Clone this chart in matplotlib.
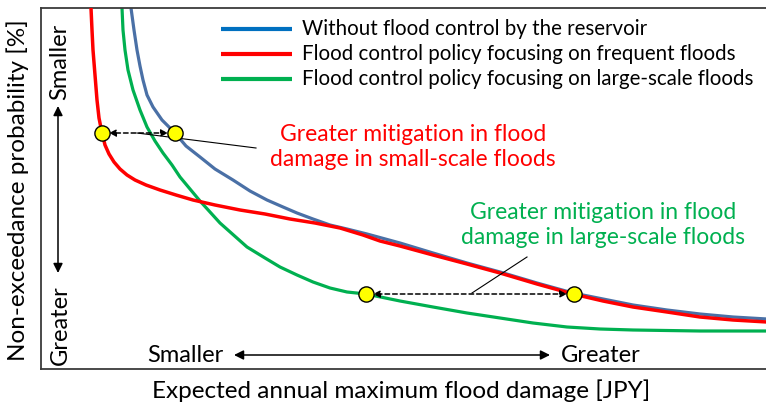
import matplotlib
matplotlib.use("Agg")
import matplotlib.pyplot as plt

plt.rcParams['font.family'] = ['Lato', 'DejaVu Sans']

# curve points (x: damage, y: non-exceedance, screen units)
blue_x = [131, 134, 137, 140, 143, 147, 153, 162, 175, 186, 200, 215, 233, 250, 267, 283, 297, 313, 330, 347, 367, 400, 433, 467, 500, 537, 573, 603, 633, 667, 700, 733, 767]
blue_y = [8, 30, 50, 66, 80, 95, 107, 120, 133, 146, 157, 169, 180, 191, 200, 207, 213, 219, 225, 229, 234, 243, 253, 263, 272, 283, 293, 299, 305, 310, 314, 317, 319]

red_x = [91, 92, 93, 95, 97, 99, 102, 105, 109, 114, 120, 127, 135, 146, 160, 176, 193, 215, 240, 265, 290, 315, 340, 363, 380, 400, 433, 467, 500, 537, 573, 603, 633, 667, 700, 733, 767]
red_y = [8, 30, 50, 75, 100, 118, 133, 145, 154, 162, 169, 175, 180, 185, 190, 195, 200, 205, 210, 214, 219, 223, 228, 235, 241, 246, 255, 264, 273, 284, 294, 301, 307, 312, 317, 320, 322]

green_x = [122, 123, 125, 128, 133, 140, 147, 155, 163, 172, 180, 190, 200, 220, 247, 265, 280, 297, 313, 330, 347, 366, 400, 433, 467, 500, 533, 567, 600, 633, 700, 767]
green_y = [8, 30, 50, 70, 90, 110, 127, 141, 153, 165, 177, 189, 201, 223, 247, 258, 267, 275, 282, 288, 292, 294, 301, 307, 313, 318, 323, 327, 329, 330, 331, 331]

series_labels = ["Without flood control by the reservoir",
                 "Flood control policy focusing on frequent floods",
                 "Flood control policy focusing on large-scale floods"]
series_colors = ["#4a70a6", "#ff0000", "#00b050"]
legend_colors = ["#0070c0", "#ff0000", "#00b050"]

# compared points (dots)
small_pts_x = [102, 175]
small_pts_y = [133, 133]
large_pts_x = [366, 574]
large_pts_y = [294, 294]

W, H = 766, 405
fig = plt.figure(figsize=(W / 100, H / 100), dpi=100)
ax = fig.add_axes([41 / W, (H - 369) / H, (W - 41) / W, 361 / H])
ax.set_xlim(41, 766)
ax.set_ylim(369, 8)
ax.set_xticks([])
ax.set_yticks([])
ax.spines['right'].set_visible(False)
for s in ['left', 'top', 'bottom']:
    ax.spines[s].set_color('#3a3a3a')
    ax.spines[s].set_linewidth(1.3)

ax.plot(blue_x, blue_y, color=series_colors[0], lw=2.3, solid_capstyle='butt', zorder=2)
ax.plot(green_x, green_y, color=series_colors[2], lw=2.3, solid_capstyle='butt', zorder=2)
ax.plot(red_x, red_y, color=series_colors[1], lw=2.5, solid_capstyle='butt', zorder=3)

# legend drawn by hand
for i, (lab, c) in enumerate(zip(series_labels, legend_colors)):
    yy = 29 + i * 25
    ax.plot([221, 292], [yy, yy], color=c, lw=3, solid_capstyle='butt')
    ax.text(302, yy, lab, fontsize=14.8, va='center', ha='left')

# dashed double arrows between compared points
for px, py in [(small_pts_x, small_pts_y), (large_pts_x, large_pts_y)]:
    ax.annotate("", xy=(px[0] + 7, py[0]), xytext=(px[1] - 7, py[1]),
                arrowprops=dict(arrowstyle="<|-|>", ls=(0, (3, 2)), lw=1.1,
                                color='black', mutation_scale=10, shrinkA=0, shrinkB=0),
                zorder=4)
    ax.scatter(px, py, s=120, color='#ffff00', edgecolor='black', linewidth=1.0, zorder=5)

# leader lines
ax.plot([137, 256], [133, 148], color='black', lw=0.8, zorder=4)
ax.plot([472, 527], [293, 257], color='black', lw=0.8, zorder=4)

ax.text(413, 147, "Greater mitigation in flood\ndamage in small-scale floods",
        color='#ff0000', fontsize=16.5, ha='center', va='center', linespacing=1.2)
ax.text(603, 225, "Greater mitigation in flood\ndamage in large-scale floods",
        color='#00b050', fontsize=16.5, ha='center', va='center', linespacing=1.2)

# direction arrows
ax.annotate("", xy=(58, 106), xytext=(58, 273),
            arrowprops=dict(arrowstyle="<|-|>", lw=1.1, color='black',
                            mutation_scale=14, shrinkA=0, shrinkB=0))
ax.text(60, 62, "Smaller", rotation=90, fontsize=17, ha='center', va='center')
ax.text(60, 325, "Greater", rotation=90, fontsize=17, ha='center', va='center')

ax.annotate("", xy=(234, 355), xytext=(550, 355),
            arrowprops=dict(arrowstyle="<|-|>", lw=1.1, color='black',
                            mutation_scale=14, shrinkA=0, shrinkB=0))
ax.text(185, 355, "Smaller", fontsize=17, ha='center', va='center')
ax.text(601, 355, "Greater", fontsize=17, ha='center', va='center')

ax.text(401, 391, "Expected annual maximum flood damage [JPY]", fontsize=17.5,
        ha='center', va='center', clip_on=False)
ax.text(18, 190, "Non-exceedance probability [%]", fontsize=17.5, rotation=90,
        ha='center', va='center', clip_on=False)

fig.savefig("out.png", dpi=100)
